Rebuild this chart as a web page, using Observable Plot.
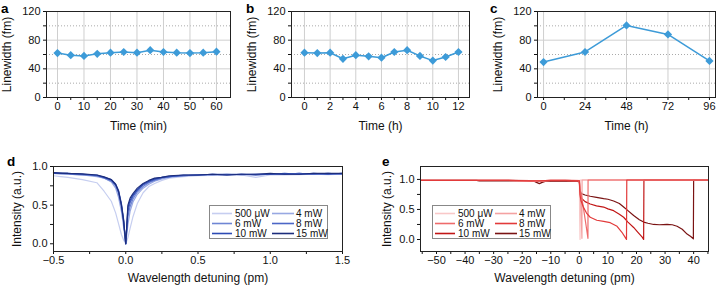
<!DOCTYPE html>
<html><head><meta charset="utf-8">
<script src="https://cdn.jsdelivr.net/npm/d3@7"></script>
<script src="https://cdn.jsdelivr.net/npm/@observablehq/plot@0.6"></script>
<style>
body{margin:0;background:#fff;}
#root{position:relative;width:717px;height:287px;overflow:hidden;font-family:"Liberation Sans",Arial,sans-serif;}
.panel{position:absolute;}
#overlay{position:absolute;left:0;top:0;pointer-events:none;}
</style></head><body><div id="root"></div><script>
// ---------- data: panels a-c ----------
const timeA = [0,5,10,15,20,25,30,35,40,45,50,55,60];
const widthA = [62,59,58,61,62.5,63.5,62.5,66,63.5,62.5,62,62.5,64];
const timeB = [0,1,2,3,4,5,6,7,8,9,10,11,12];
const widthB = [62.5,62,62.5,54,59,57.5,55.5,63.5,66,58,51.5,56.5,63.5];
const timeC = [0,24,48,72,96];
const widthC = [49.5,63.5,100.5,88,51];
const yMajorLW = [0,40,80,120];
const yMinorLW = [20,60,100];
const xMajorA = [0,10,20,30,40,50,60], xMinorA = [5,15,25,35,45,55];
const xMajorB = [0,2,4,6,8,10,12], xMinorB = [1,3,5,7,9,11];
const xMajorC = [0,24,48,72,96], xMinorC = [12,36,60,84];

// ---------- data: panel d ----------
const powers = ["500 μW","4 mW","6 mW","8 mW","10 mW","15 mW"];
const detuneD = [-0.5,-0.45,-0.4,-0.3,-0.2,-0.15,-0.1,-0.07,-0.05,-0.03,-0.015,0,0.015,0.03,0.05,0.08,0.12,0.16,0.2,0.25,0.3,0.4,0.5,0.6,0.7,0.8,0.9,1.0,1.1,1.2,1.3,1.4,1.5];
const intD_500uW = [0.88,0.87,0.86,0.83,0.79,0.68,0.55,0.40,0.26,0.12,0.05,0,0.08,0.20,0.35,0.52,0.66,0.74,0.78,0.82,0.85,0.87,0.88,0.885,0.89,0.89,0.86,0.89,0.89,0.895,0.90,0.895,0.90];
const intD_4mW = [0.91,0.90,0.90,0.89,0.87,0.85,0.80,0.72,0.60,0.42,0.22,0,0.25,0.42,0.54,0.64,0.72,0.77,0.81,0.84,0.86,0.88,0.89,0.89,0.89,0.90,0.89,0.90,0.90,0.90,0.90,0.91,0.90];
const intD_6mW = [0.91,0.91,0.90,0.89,0.88,0.85,0.81,0.75,0.65,0.48,0.28,0,0.35,0.48,0.58,0.67,0.74,0.79,0.82,0.85,0.87,0.88,0.89,0.89,0.90,0.89,0.90,0.90,0.90,0.91,0.90,0.90,0.91];
const intD_8mW = [0.92,0.91,0.91,0.90,0.88,0.86,0.82,0.76,0.67,0.50,0.30,0,0.42,0.53,0.61,0.69,0.76,0.80,0.83,0.86,0.87,0.88,0.89,0.90,0.89,0.90,0.90,0.90,0.90,0.91,0.90,0.91,0.90];
const intD_10mW = [0.91,0.91,0.91,0.90,0.89,0.86,0.83,0.77,0.69,0.52,0.32,0,0.47,0.56,0.63,0.70,0.77,0.81,0.84,0.86,0.87,0.89,0.89,0.90,0.90,0.90,0.89,0.90,0.91,0.90,0.91,0.90,0.91];
const intD_15mW = [0.92,0.915,0.91,0.905,0.89,0.865,0.83,0.77,0.68,0.50,0.30,0,0.50,0.59,0.65,0.72,0.78,0.82,0.85,0.86,0.88,0.89,0.89,0.90,0.89,0.90,0.90,0.91,0.90,0.90,0.91,0.91,0.91];
const colorsD = ["#c6cef0","#98a8e2","#6f86d4","#4c66c6","#2d4bb4","#1c2d7c"];

// ---------- data: panel e ----------
const detE_500uW = [-55.6,-45,-35,-25,-17,-14,-10,-5,0,0.1,0.25,0.3,5,15,25,35,45.2];
const intE_500uW = [0.985,0.985,0.985,0.985,0.97,0.975,0.985,0.985,0.985,0.4,0.0,0.99,0.99,0.99,0.99,0.99,0.99];
const detE_4mW = [-55.6,-45,-35,-25,-17,-14,-10,-5,0,0.15,0.5,0.9,0.95,5,15,25,35,45.2];
const intE_4mW = [0.985,0.985,0.985,0.985,0.965,0.97,0.985,0.985,0.98,0.80,0.60,0.02,0.99,0.99,0.99,0.99,0.99,0.99];
const detE_6mW = [-55.6,-45,-35,-25,-17,-14,-10,-5,0,0.3,0.7,1.5,2.3,3.0,3.05,10,20,30,40,45.2];
const intE_6mW = [0.985,0.985,0.985,0.985,0.97,0.975,0.985,0.985,0.98,0.80,0.74,0.50,0.25,0.02,0.99,0.99,0.99,0.99,0.99,0.99];
const detE_8mW = [-55.6,-45,-35,-25,-17,-14,-10,-5,0,0.2,0.6,1.4,2.5,3.8,6.1,8.5,10.8,13.2,14.9,16.1,16.5,16.6,25,35,45.2];
const intE_8mW = [0.985,0.985,0.985,0.985,0.975,0.975,0.985,0.985,0.975,0.75,0.64,0.54,0.44,0.37,0.32,0.30,0.28,0.22,0.12,0.03,0.0,0.99,0.99,0.99,0.99];
const detE_10mW = [-55.6,-45,-35,-25,-17,-15,-13,-10,-5,0,0.2,0.5,0.9,2,3.8,6,8.5,10,12,14,15.5,17,19,20.5,22,22.5,22.6,30,40,45.2];
const intE_10mW = [0.985,0.985,0.985,0.985,0.98,0.97,0.97,0.98,0.98,0.97,0.82,0.72,0.68,0.63,0.59,0.56,0.54,0.51,0.48,0.42,0.37,0.29,0.20,0.12,0.04,0.0,0.99,0.99,0.99,0.99];
const detE_15mW = [-55.6,-50,-45,-40,-36,-35,-30,-25,-20,-16,-15,-14,-13,-12,-10,-5,-1,0,0.2,0.5,0.9,2,3.8,6,8.5,10,12,14,15.5,17,19,21,22.5,24,26,28,30.7,32.5,34.2,36,37.7,39,39.9,40,41,43,45.2];
const intE_15mW = [0.985,0.985,0.985,0.985,0.985,0.975,0.975,0.975,0.975,0.975,0.95,0.93,0.95,0.965,0.97,0.975,0.97,0.96,0.85,0.78,0.76,0.74,0.72,0.70,0.68,0.67,0.64,0.60,0.54,0.48,0.40,0.33,0.29,0.27,0.25,0.245,0.25,0.245,0.22,0.17,0.09,0.05,0.01,0.99,0.985,0.985,0.985];
const colorsE = ["#f9c8c8","#f4a2a2","#ee6b6b","#e23a3a","#c11616","#7a1313"];

// ---------- helpers ----------
const FONT = "Liberation Sans, Arial, sans-serif";
const blue = "#3d9bd8";
const root = document.getElementById("root");
function place(el, left, top) {
  const w = document.createElement("div");
  w.className = "panel"; w.style.left = left + "px"; w.style.top = top + "px";
  w.appendChild(el); root.appendChild(w);
}
function toRows(xs, ys) { return xs.map((x, i) => ({x, y: ys[i]})); }
const xTitle = (t, dy) => Plot.text([t], {frameAnchor: "bottom", dy, text: d => d, fontSize: 12, textAnchor: "middle", lineAnchor: "middle"});
const yTitle = (t, dx) => Plot.text([t], {frameAnchor: "left", dx, rotate: -90, text: d => d, fontSize: 12, textAnchor: "middle", lineAnchor: "middle"});

function lwPanel({xs, ys, width, ml, mr, xDomain, xMajor, xMinor, xLabel}) {
  const data = toRows(xs, ys);
  return Plot.plot({
    width, height: 140, marginLeft: ml, marginRight: mr, marginTop: 11, marginBottom: 43,
    style: {background: "transparent", fontFamily: FONT, fontSize: "11px", color: "#111", overflow: "visible"},
    x: {domain: xDomain}, y: {domain: [0, 120]},
    marks: [
      Plot.gridY(yMinorLW, {stroke: "#aaa", strokeOpacity: 1, strokeDasharray: "1,2"}),
      Plot.gridY(yMajorLW, {stroke: "#cfcfcf", strokeOpacity: 1}),
      Plot.gridX(xMajor, {stroke: "#cfcfcf", strokeOpacity: 1}),
      Plot.axisX({ticks: xMajor, tickSize: 3, tickPadding: 2, label: null, tickFormat: d3.format("d")}),
      Plot.axisX({ticks: xMinor, tickSize: 3, tickFormat: () => "", label: null}),
      Plot.axisY({ticks: yMajorLW, tickSize: 3, tickPadding: 3, label: null, tickFormat: d3.format("d")}),
      Plot.axisY({ticks: yMinorLW, tickSize: 3, tickFormat: () => "", label: null}),
      Plot.frame({stroke: "#222"}),
      Plot.line(data, {x: "x", y: "y", stroke: blue, strokeWidth: 1.5}),
      Plot.dot(data, {x: "x", y: "y", symbol: "diamond2", r: 3.7, fill: blue}),
      xTitle(xLabel, 29),
      yTitle("Linewidth (fm)", -39)
    ]
  });
}

function intPanel({width, ml, mr, xDomain, yDomain, xMajor, xMinor, xFormat, series, colors, order, yDx}) {
  const lines = order.map(i => Plot.line(series[i], {x: "x", y: "y", stroke: colors[i], strokeWidth: 1.2}));
  return Plot.plot({
    width, height: 147, marginLeft: ml, marginRight: mr, marginTop: 26, marginBottom: 36,
    style: {background: "transparent", fontFamily: FONT, fontSize: "11px", color: "#111", overflow: "visible"},
    x: {domain: xDomain}, y: {domain: yDomain},
    marks: [
      ...lines,
      Plot.axisX({ticks: xMajor, tickSize: 3, tickPadding: 2, label: null, tickFormat: xFormat}),
      Plot.axisX({ticks: xMinor, tickSize: 3, tickFormat: () => "", label: null}),
      Plot.axisY({ticks: [0, 0.5, 1], tickSize: 3, tickPadding: 3, label: null, tickFormat: d3.format(".1f")}),
      Plot.axisY({ticks: [0.25, 0.75], tickSize: 3, tickFormat: () => "", label: null}),
      Plot.frame({stroke: "#222"}),
      xTitle("Wavelength detuning (pm)", 26.5),
      yTitle("Intensity (a.u.)", yDx)
    ]
  });
}

// ---------- panels ----------
place(lwPanel({xs: timeA, ys: widthA, width: 236, ml: 46, mr: 6, xDomain: [-4.15, 65.3], xMajor: xMajorA, xMinor: xMinorA, xLabel: "Time (min)"}), 0, 0);
place(lwPanel({xs: timeB, ys: widthB, width: 240, ml: 59, mr: 3, xDomain: [-1.01, 12.86], xMajor: xMajorB, xMinor: xMinorB, xLabel: "Time (h)"}), 232, 0);
place(lwPanel({xs: timeC, ys: widthC, width: 245, ml: 65, mr: 2, xDomain: [-3.5, 99.5], xMajor: xMajorC, xMinor: xMinorC, xLabel: "Time (h)"}), 472, 0);

const seriesD = [intD_500uW, intD_4mW, intD_6mW, intD_8mW, intD_10mW, intD_15mW].map(ys => toRows(detuneD, ys));
place(intPanel({width: 360, ml: 53, mr: 18, xDomain: [-0.5, 1.5], yDomain: [-0.1, 1.0],
  xMajor: [-0.5, 0, 0.5, 1, 1.5], xMinor: [-0.25, 0.25, 0.75, 1.25], xFormat: d3.format(".1f"),
  series: seriesD, colors: colorsD, order: [0,1,2,3,4,5], yDx: -36}), 0, 140);

const seriesE = [[detE_500uW, intE_500uW],[detE_4mW, intE_4mW],[detE_6mW, intE_6mW],[detE_8mW, intE_8mW],[detE_10mW, intE_10mW],[detE_15mW, intE_15mW]].map(([a, b]) => toRows(a, b));
place(intPanel({width: 357, ml: 60, mr: 9, xDomain: [-55.6, 45.2], yDomain: [-0.2, 1.215],
  xMajor: [-50,-40,-30,-20,-10,0,10,20,30,40], xMinor: [-55,-45,-35,-25,-15,-5,5,15,25,35,45], xFormat: d3.format("d"),
  series: seriesE, colors: colorsE, order: [5,4,0,1,2,3], yDx: -33}), 360, 140);

// ---------- overlay: panel letters & legends ----------
const ov = d3.select(root).append("svg").attr("id", "overlay").attr("width", 717).attr("height", 287)
  .style("font-family", FONT);
const letters = [["a", 1, 12.5], ["b", 246, 12.5], ["c", 490, 12.5], ["d", 7, 165.5], ["e", 382, 166]];
ov.selectAll("text.letter").data(letters).join("text").attr("class", "letter")
  .attr("x", d => d[1]).attr("y", d => d[2]).attr("font-size", 13.5).attr("font-weight", "bold").text(d => d[0]);

function legend(left, top, colors) {
  const g = ov.append("g").attr("transform", `translate(${left},${top})`);
  g.append("rect").attr("x", 0.5).attr("y", 0.5).attr("width", 118).attr("height", 33)
    .attr("fill", "white").attr("stroke", "#888").attr("stroke-width", 1);
  powers.forEach((p, i) => {
    const col = i % 2, row = Math.floor(i / 2);
    const x0 = col ? 63 : 3, x1 = col ? 85 : 23, tx = col ? 87 : 26, y = 8.5 + row * 10;
    g.append("line").attr("x1", x0).attr("x2", x1).attr("y1", y).attr("y2", y)
      .attr("stroke", colors[i]).attr("stroke-width", 1.6);
    g.append("text").attr("x", tx).attr("y", y).attr("dy", "0.35em").attr("font-size", 10).attr("fill", "#111").text(p);
  });
}
legend(209, 205, colorsD);
legend(432, 205, colorsE);
</script></body></html>
